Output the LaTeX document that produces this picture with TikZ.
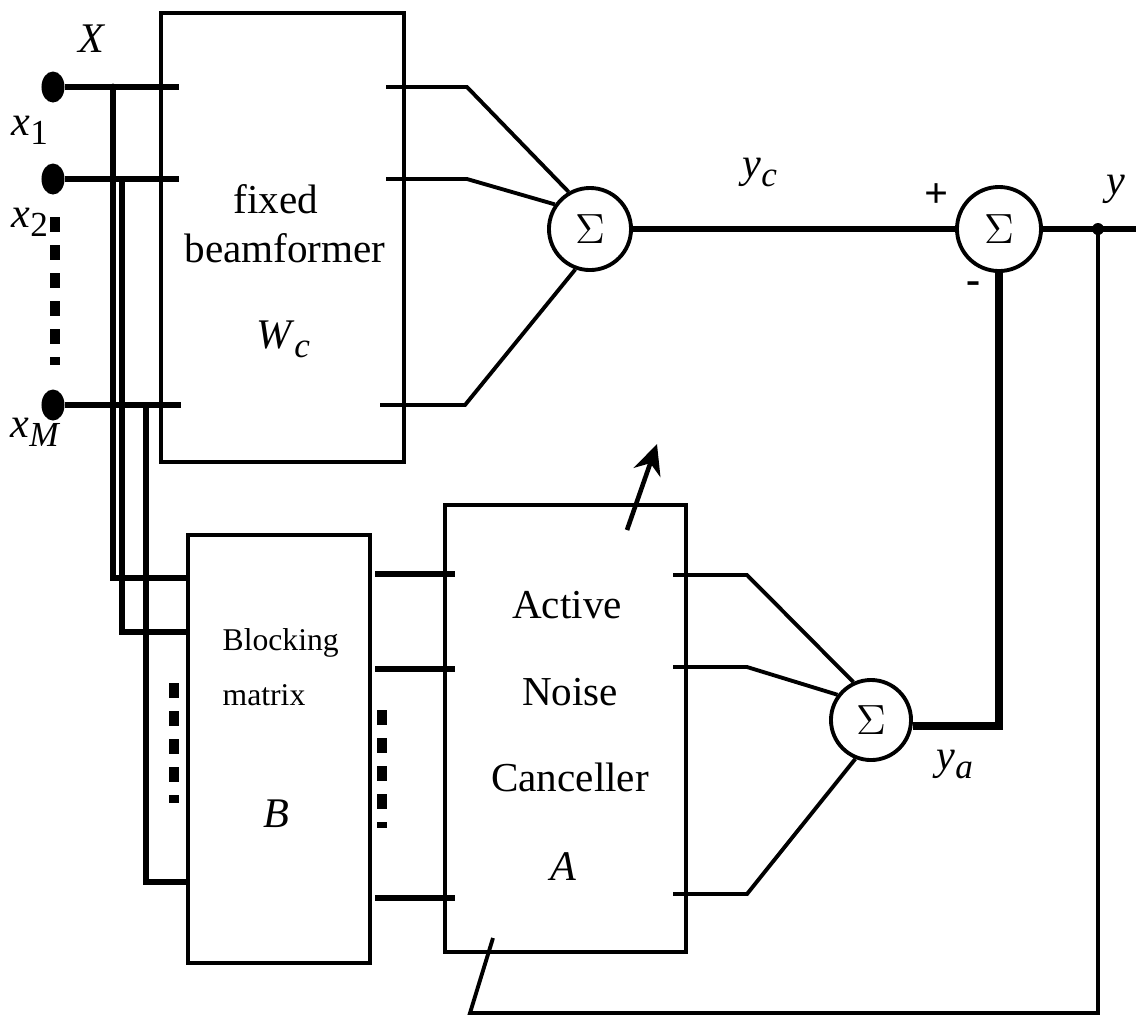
\documentclass[tikz,border=0pt]{standalone}
\usepackage{fontspec}
\setmainfont{Liberation Serif}
\usetikzlibrary{arrows.meta,shapes.geometric}

\newcommand{\lab}[2]{\textit{#1}\raisebox{-0.5ex}{\fontsize{10}{10}\selectfont #2}}

\begin{document}
\begin{tikzpicture}[x=0.01cm,y=-0.01cm,
    block/.style={draw,line width=1.1pt,inner sep=0pt},
    sum/.style={circle,draw,line width=1.1pt,minimum size=0.82cm,inner sep=0pt,font=\fontsize{13}{13}\selectfont},
    port/.style={ellipse,fill=black,minimum width=0.23cm,minimum height=0.31cm,inner sep=0pt},
    junc/.style={circle,fill=black,minimum size=0.12cm,inner sep=0pt},
    wire/.style={line width=1.5pt},
    heavy/.style={line width=1.9pt},
    fine/.style={line width=1.1pt},
    dashbar/.style={line width=3pt,dash pattern=on 0.15cm off 0.13cm},
    big/.style={font=\fontsize{11.7}{14}\selectfont,inner sep=0pt},
    lbl/.style={font=\fontsize{12}{14}\selectfont,inner sep=0pt}]

\useasboundingbox (0,0) rectangle (1136,1017);

\node[block,minimum width=2.42cm,minimum height=4.48cm] (fb) at (282.5,237.5) {};
\node[block,minimum width=1.82cm,minimum height=4.28cm] (bm) at (279,749) {};
\node[block,minimum width=2.41cm,minimum height=4.47cm] (anc) at (565.5,728.5) {};

\node[sum] (s1) at (590,229) {$\Sigma$};
\node[sum,minimum size=0.84cm] (s2) at (999,229) {$\Sigma$};
\node[sum,minimum size=0.80cm] (s3) at (871,720) {$\Sigma$};

\node[port] (p1) at (53,87) {};
\node[port] (p2) at (53,179) {};
\node[port] (pM) at (53,405) {};

\node[big,anchor=base] (fbt1) at (276,213) {fixed};
\node[big,anchor=base] (fbt2) at (285,262) {beamformer};
\node[lbl,anchor=base] (fbw) at (283,348) {\lab{W}{\textit{c}}};
\node[font=\fontsize{9}{9}\selectfont,inner sep=0pt,anchor=base west] (bmt1) at (222,650) {Blocking};
\node[font=\fontsize{9}{9}\selectfont,inner sep=0pt,anchor=base west] (bmt2) at (222,705) {matrix};
\node[lbl,anchor=base] (bmb) at (276,827) {\textit{B}};
\node[big,anchor=base] (anct1) at (567,618) {Active};
\node[big,anchor=base] (anct2) at (570,705) {Noise};
\node[big,anchor=base] (anct3) at (570,791) {Canceller};
\node[lbl,anchor=base] (anca) at (563,880) {\textit{A}};

\node[lbl,anchor=base] (xlab) at (92,52) {\textit{X}};
\node[lbl,anchor=base west] (x1lab) at (11,135) {\lab{x}{1}};
\node[lbl,anchor=base west] (x2lab) at (11,227) {\lab{x}{2}};
\node[lbl,anchor=base west] (xMlab) at (10,437) {\lab{x}{\textit{M}}};
\node[lbl,anchor=base west] (yclab) at (742,177) {\lab{y}{\textit{c}}};
\node[lbl,anchor=base west] (ylab) at (1106,194) {\textit{y}};
\node[lbl,anchor=base west] (yalab) at (936,769) {\lab{y}{\textit{a}}};
\node[lbl] (plus) at (937,196) {\textbf{+}};
\node[lbl] (minus) at (974,288) {\textbf{-}};

\coordinate (fi1) at (179,87);
\coordinate (fi2) at (179,179);
\coordinate (fiM) at (181,405);
\coordinate (t1) at (113,87);
\coordinate (t2) at (122,179);
\coordinate (tM) at (146,405);
\coordinate (bi1) at (187,578);
\coordinate (bi2) at (187,632);
\coordinate (biM) at (187,882);
\coordinate (fo1) at (386,87);
\coordinate (fo2) at (386,179);
\coordinate (foM) at (380,405);
\coordinate (fk1) at (467,87);
\coordinate (fk2) at (467,179);
\coordinate (fkM) at (465,405);
\coordinate (bo1) at (375,574);
\coordinate (bo2) at (375,669);
\coordinate (boM) at (375,898);
\coordinate (ai1) at (455,574);
\coordinate (ai2) at (455,669);
\coordinate (aiM) at (455,898);
\coordinate (ao1) at (673,575);
\coordinate (ao2) at (673,667);
\coordinate (aoM) at (673,894);
\coordinate (ak1) at (747,575);
\coordinate (ak2) at (747,667);
\coordinate (akM) at (747,894);
\coordinate (yj) at (1098,229);
\coordinate (yo) at (1136,229);
\coordinate (fbk) at (470,1013);
\coordinate (fbe) at (493,938);
\coordinate (ad0) at (627,530);
\coordinate (ad1) at (657,444);

% microphone inputs
\draw[line width=1.7pt] (p1) -- (fi1);
\draw[line width=1.7pt] (p2) -- (fi2);
\draw[line width=1.7pt] (pM) -- (fiM);
\draw[dashbar] (55,217) -- (55,365);

% taps to the blocking matrix
\draw[wire] (t1) |- (bi1);
\draw[heavy] (t2) |- (bi2);
\draw[wire] (tM) |- (biM);
\node[junc,minimum size=0.07cm] (t1dot) at (t1) {};
\draw[dashbar,line width=2.8pt] (174,683) -- (174,803);

% fixed beamformer to upper sum
\draw[fine] (fo1) -- (fk1) -- (s1.120);
\draw[fine] (fo2) -- (fk2) -- (s1.145);
\draw[fine] (foM) -- (fkM) -- (s1.250);

% blocking matrix to canceller
\draw[wire] (bo1) -- (ai1);
\draw[wire] (bo2) -- (ai2);
\draw[wire] (boM) -- (aiM);
\draw[dashbar,line width=2.8pt] (382,710) -- (382,828);

% canceller to lower sum
\draw[fine] (ao1) -- (ak1) -- (s3.115);
\draw[fine] (ao2) -- (ak2) -- (s3.143);
\draw[fine] (aoM) -- (akM) -- (s3.248);

% output stage
\draw[line width=1.7pt] (s1) -- (s2);
\draw[line width=2.3pt] (s3.-8) -| (s2.south);
\draw[wire] (s2) -- (yo);
\node[junc] (ydot) at (yj) {};
\draw[fine] (yj) |- (fbk) -- (fbe);
\draw[line width=1.3pt,-{Stealth[length=3mm,width=2.8mm]}] (ad0) -- (ad1);

\end{tikzpicture}
\end{document}
